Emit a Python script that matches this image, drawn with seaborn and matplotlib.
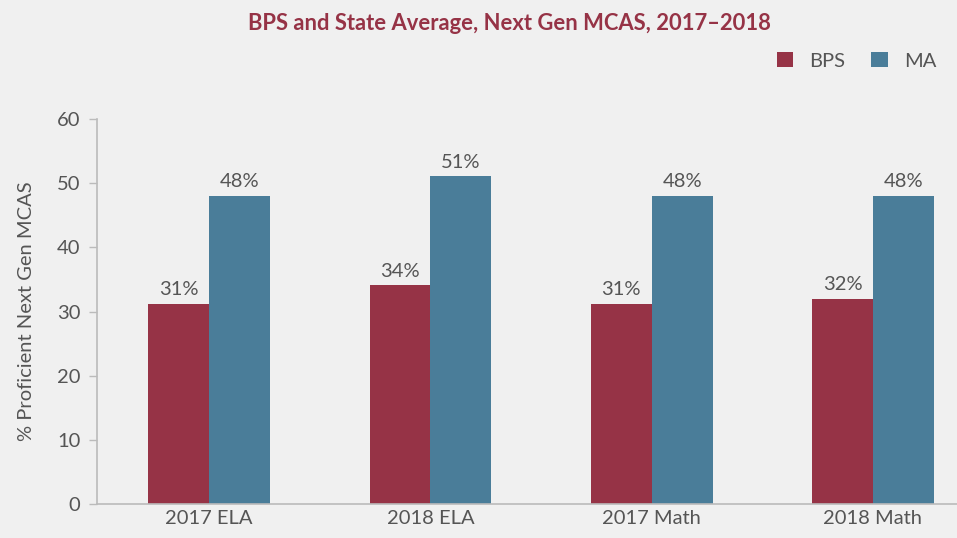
import pandas as pd
import seaborn as sns
import matplotlib.pyplot as plt

# values
categories = ['2017 ELA', '2018 ELA', '2017 Math', '2018 Math']
bps = [31.2, 34.1, 31.2, 32.0]
ma = [48.0, 51.1, 48.0, 48.0]
bps_labels = ['31%', '34%', '31%', '32%']
ma_labels = ['48%', '51%', '48%', '48%']

data = pd.DataFrame({
    'Test': categories * 2,
    'Group': ['BPS'] * 4 + ['MA'] * 4,
    'Value': bps + ma,
})

sns.set_style('white')
plt.rcParams['font.family'] = ['Lato', 'DejaVu Sans']

red = '#963346'
blue = '#4a7d99'
grey = '#555555'
bg = '#f0f0f0'

fig = plt.figure(figsize=(9.57, 5.38), dpi=100, facecolor=bg)
ax = fig.add_axes([0.1014, 0.0632, 0.8986, 0.7156])
ax.set_facecolor(bg)

sns.barplot(data=data, x='Test', y='Value', hue='Group', order=categories,
            hue_order=['BPS', 'MA'], palette=[red, blue], width=0.55,
            saturation=1, linewidth=0, ax=ax)

for cont, labels in zip(ax.containers, [bps_labels, ma_labels]):
    ax.bar_label(cont, labels=labels, padding=4, fontsize=14.5, color=grey)

ax.set_ylim(0, 60)
ax.set_xlim(-0.507, 3.38)
ax.set_yticks(range(0, 61, 10))
ax.set_xlabel('')
ax.set_ylabel('% Proficient Next Gen MCAS', fontsize=14.5, color=grey, labelpad=16)
ax.tick_params(axis='y', length=6, width=1, color='#bbbbbb', labelsize=14.5, labelcolor=grey, pad=6, left=True)
ax.tick_params(axis='x', length=0, labelsize=14.5, labelcolor=grey, pad=4)

for s in ['top', 'right']:
    ax.spines[s].set_visible(False)
for s in ['left', 'bottom']:
    ax.spines[s].set_color('#bbbbbb')
    ax.spines[s].set_linewidth(1.2)

ax.legend_.remove()
handles, lbls = ax.get_legend_handles_labels()
fig.legend(handles, lbls, loc='center right', bbox_to_anchor=(0.997, 0.887), ncol=2,
           frameon=False, fontsize=14.5, labelcolor=grey, handlelength=0.8, handleheight=0.8,
           columnspacing=1.3, handletextpad=0.8)

fig.suptitle('BPS and State Average, Next Gen MCAS, 2017–2018', x=0.532, y=0.975,
             fontsize=15.8, fontweight='bold', color=red)

fig.savefig('out.png', dpi=100, facecolor=bg)
